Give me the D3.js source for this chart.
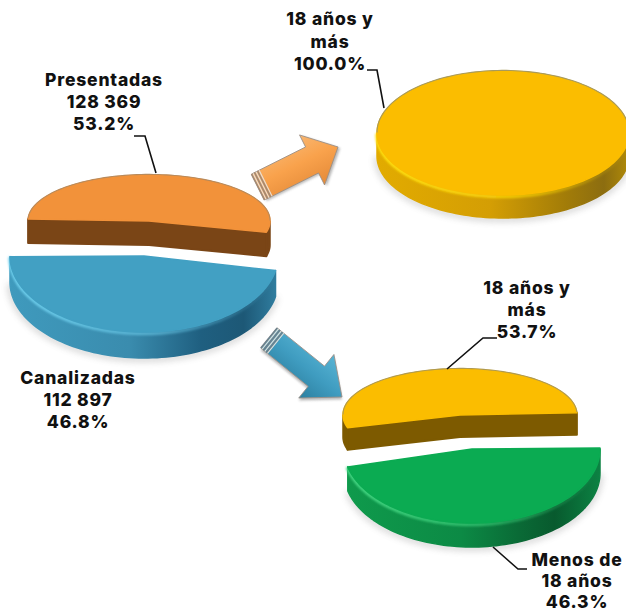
<!DOCTYPE html>
<html><head><meta charset="utf-8">
<script src="https://cdn.jsdelivr.net/npm/d3@7/dist/d3.min.js"></script>
<style>html,body{margin:0;background:#fff}svg{display:block}text{font-family:Inter,"Open Sans",sans-serif;font-weight:800;fill:#111;text-anchor:middle;letter-spacing:.8px}</style>
</head><body><svg id="c" width="626" height="613"></svg>
<script>
// data
const mainCategories = ["Presentadas", "Canalizadas"];
const mainValues = [128369, 112897];
const mainPercents = [53.2, 46.8];
const presentadasCategories = ["18 años y más"];
const presentadasPercents = [100.0];
const canalizadasCategories = ["18 años y más", "Menos de 18 años"];
const canalizadasPercents = [53.7, 46.3];

// layout (degrees for pie rotation)
const rad = d => d * Math.PI / 180;
const pies = [
 {values: mainValues, start: -87.5, slices: [
   {cx:149,cy:221,rx:121,ry:46,depth:24,rot:0,face:"#f2923a",wall:"gO",cut:"#7a4516",edge:"#b98a5a"},
   {cx:144,cy:256,rx:134,ry:76,depth:26,rot:-3,face:"#42a0c3",wall:"gB",hi:"gHB",edge:"#8fb6c4"}]},
 {values: presentadasPercents, start: -90, slices: [
   {cx:503,cy:133,rx:126,ry:62,depth:23,rot:0,face:"#fbbd00",wall:"gY",hi:"gHY",edge:"#a89a5c"}]},
 {values: canalizadasPercents, start: -106, slices: [
   {cx:460,cy:415,rx:117,ry:46,depth:22,rot:0,face:"#fbbd00",wall:"gY",cut:"#7d5a00",edge:"#b09a50"},
   {cx:472,cy:449,rx:128,ry:74,depth:24,rot:2,face:"#0bab52",wall:"gG",hi:"gHG",edge:"#79b492"}]}
];
const labels = [
 {x:104,y:86,step:22,lines:["Presentadas","128 369","53.2%"]},
 {x:78,y:384,step:22,lines:["Canalizadas","112 897","46.8%"]},
 {x:330,y:25,step:22.5,lines:["18 años y","más","100.0%"]},
 {x:527,y:294,step:22,lines:["18 años y","más","53.7%"]},
 {x:577,y:566,step:21,lines:["Menos de","18 años","46.3%"]}
];
const leaders = [
 [[134,136],[145,136],[156,173]],
 [[367,70],[377,70],[384,108]],
 [[497,338],[483,338],[447,369]],
 [[493,547],[518,569],[527,569]]
];
const arrows = [
 {tail:[258,187],tip:[338,147],hs:14.5,hh:28,hl:29,fill:"gAO",stripe:"#a08a78"},
 {tail:[269,338],tip:[342,397],hs:13,hh:28,hl:33,fill:"gAB",stripe:"#70808a"}
];

const svg = d3.select("#c");
const defs = svg.append("defs");
function grad(id, stops, x2=1, y2=0){
  const g = defs.append("linearGradient").attr("id",id).attr("x1",0).attr("y1",0).attr("x2",x2).attr("y2",y2);
  stops.forEach(([o,c,op])=>g.append("stop").attr("offset",o).attr("stop-color",c).attr("stop-opacity",op===undefined?1:op));
}
grad("gB",[[0,"#3f9abd"],[.45,"#3a8cae"],[.72,"#1f5f80"],[.88,"#1d5876"],[1,"#2f7c9e"]]);
grad("gG",[[0,"#0f9a4c"],[.45,"#0c8a45"],[.68,"#0a6a36"],[.82,"#085a2e"],[1,"#0c8243"]]);
grad("gY",[[0,"#e2ab00"],[.45,"#d49e04"],[.75,"#a27c08"],[.9,"#8c6d10"],[1,"#b08a08"]]);
grad("gO",[[0,"#7a4516"],[1,"#7a4516"]]);
grad("gHB",[[0,"#6fd0ee"],[.5,"#5fbcdc",.8],[1,"#5fbcdc",0]]);
grad("gHY",[[0,"#ffe010"],[.5,"#ffd808",.8],[1,"#ffd808",0]]);
grad("gHG",[[0,"#45d884"],[.5,"#35c873",.8],[1,"#35c873",0]]);
grad("gAO",[[0,"#f8b670"],[.45,"#f9a24c"],[1,"#e48a38"]],0,1);
grad("gAB",[[0,"#58b4d4"],[.5,"#3f9cc0"],[1,"#2c7f9f"]],0,1);
const blur = (id,s)=>defs.append("filter").attr("id",id).attr("x","-20%").attr("y","-20%").attr("width","140%").attr("height","150%")
  .append("feGaussianBlur").attr("stdDeviation",s);
blur("sh",3.5); blur("soft",1.2); blur("edgeSoft",.45);

const line = d3.line();
pies.forEach(p=>{
  const arcs = d3.pie().sort(null).startAngle(rad(p.start)).endAngle(rad(p.start)+2*Math.PI)(p.values);
  arcs.forEach((a,i)=>{
    const s = p.slices[i];
    const x = d3.scaleLinear([-1,1],[s.cx-s.rx,s.cx+s.rx]);
    const y = d3.scaleLinear([-1,1],[s.cy-s.ry,s.cy+s.ry]);
    const a0 = a.startAngle+rad(s.rot), a1 = a.endAngle+rad(s.rot);
    const pt = (t,d=0)=>[x(Math.sin(t)), y(-Math.cos(t))+d];
    const samples = (u,v)=>{const n=Math.max(2,Math.ceil(Math.abs(v-u)/rad(2)));return d3.range(n+1).map(k=>u+(v-u)*k/n);};
    const full = Math.abs(a1-a0-2*Math.PI)<1e-6;
    const rim = samples(a0,a1).map(t=>pt(t));
    const facePts = full ? rim : [[s.cx,s.cy],...rim];
    const ranges = [];
    for(const k of [-1,0,1]){
      const lo = Math.max(a0,rad(90)+k*2*Math.PI), hi = Math.min(a1,rad(270)+k*2*Math.PI);
      if(hi>lo) ranges.push([lo,hi]);
    }
    const g = svg.append("g");
    ranges.forEach(([lo,hi])=>{
      if(hi-lo<rad(40)) return;
      const ts = samples(lo,hi);
      g.append("path").attr("d",line(ts.map(t=>pt(t,s.depth+1)))).attr("fill","none")
       .attr("stroke","#777").attr("stroke-width",4).attr("opacity",.45).attr("filter","url(#sh)");
    });
    if(s.cut){
      const c = [pt(a1),[s.cx,s.cy],pt(a0)];
      const wall = [...c,...c.slice().reverse().map(q=>[q[0],q[1]+s.depth])];
      g.append("path").attr("d",line(wall)+"Z").attr("fill",s.cut).attr("stroke",s.cut).attr("stroke-width",2).attr("stroke-linejoin","round");
    }
    ranges.forEach(([lo,hi])=>{
      const ts = samples(lo,hi);
      const top = ts.map(t=>pt(t)), bot = ts.map(t=>pt(t,s.depth)).reverse();
      g.append("path").attr("d",line([...top,...bot])+"Z").attr("fill",s.cut?s.cut:`url(#${s.wall})`)
       .attr("stroke",s.cut?s.cut:`url(#${s.wall})`).attr("stroke-width",1.5).attr("stroke-linejoin","round");
    });
    if(s.hi){
      ranges.forEach(([lo,hi])=>{
        const ts = samples(lo,hi).reverse();
        g.append("path").attr("d",line(ts.map(t=>pt(t,1.6)))).attr("fill","none").attr("stroke",`url(#${s.hi})`)
         .attr("stroke-width",3.4).attr("stroke-linecap","round").attr("filter","url(#soft)");
      });
    }
    g.append("path").attr("d",line(facePts)+"Z").attr("fill",s.face).attr("stroke",s.face).attr("stroke-width",1.5).attr("stroke-linejoin","round");
    const upperTs = samples(a0,a1).filter(t=>Math.cos(t)>-0.02 && (!full || t<=rad(180)));
    g.append("path").attr("d",line(upperTs.map(t=>pt(t,-.6)))).attr("fill","none").attr("stroke",s.edge).attr("stroke-width",1.1).attr("filter","url(#edgeSoft)");
  });
});

arrows.forEach(a=>{
  const dx=a.tip[0]-a.tail[0], dy=a.tip[1]-a.tail[1], L=Math.hypot(dx,dy), ang=Math.atan2(dy,dx)*180/Math.PI;
  const g=svg.append("g").attr("transform",`translate(${a.tail}) rotate(${ang})`);
  const pts=[[0,-a.hs],[L-a.hl,-a.hs],[L-a.hl,-a.hh],[L,0],[L-a.hl,a.hh],[L-a.hl,a.hs],[0,a.hs]];
  g.append("path").attr("d",line(pts)+"Z").attr("fill","#666").attr("opacity",.45).attr("transform","translate(1.5,2)").attr("filter","url(#soft)");
  g.append("path").attr("d",line(pts)+"Z").attr("fill",`url(#${a.fill})`).attr("stroke","#9a8f86").attr("stroke-width",.8);
  [0,3.4,6.8].forEach(o=>g.append("line").attr("x1",o).attr("x2",o).attr("y1",-a.hs).attr("y2",a.hs).attr("stroke",a.stripe).attr("stroke-width",1.6));
  [1.7,5.1,8.5].forEach(o=>g.append("line").attr("x1",o).attr("x2",o).attr("y1",-a.hs).attr("y2",a.hs).attr("stroke","#e8e0d8").attr("stroke-width",1.1));
});

svg.selectAll("path.leader").data(leaders).join("path").attr("class","leader").attr("d",d=>line(d))
  .attr("fill","none").attr("stroke","#111").attr("stroke-width",1.6);

labels.forEach(l=>{
  const t=svg.append("text").attr("font-size",17.5).attr("x",l.x).attr("y",l.y);
  l.lines.forEach((s,i)=>t.append("tspan").attr("x",l.x).attr("y",l.y+i*l.step).text(s));
});
</script></body></html>
